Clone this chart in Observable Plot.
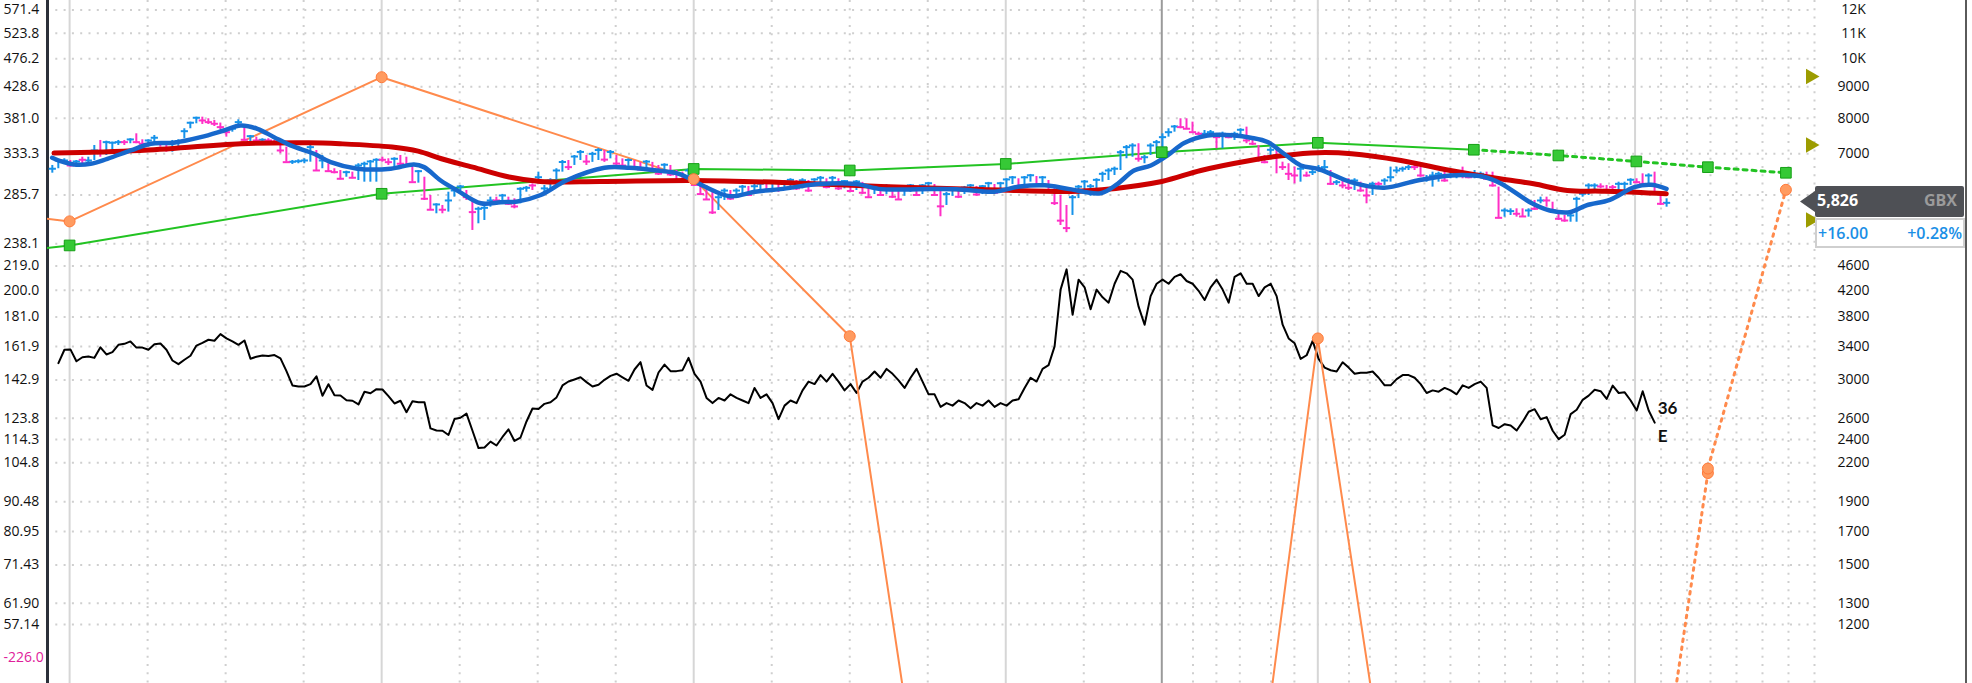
<!DOCTYPE html>
<html><head><meta charset="utf-8">
<script src="https://cdn.jsdelivr.net/npm/d3@7"></script>
<script src="https://cdn.jsdelivr.net/npm/@observablehq/plot@0.6"></script>
<style>
html,body{margin:0;padding:0;background:#fff;overflow:hidden}
#chart{position:relative;width:1972px;height:683px;font-family:"Open Sans",sans-serif}
.tag{position:absolute;box-sizing:border-box}
</style></head><body><div id="chart"></div>
<script>
// ---- data (x in months since the first year line, prices in GBX) ----
const priceTicks = [12000,11000,10000,9000,8000,7000,6000,5000,4600,4200,3800,3400,3000,2600,2400,2200,1900,1700,1500,1300,1200];
const rightTicks = [12000,11000,10000,9000,8000,7000,4600,4200,3800,3400,3000,2600,2400,2200,1900,1700,1500,1300,1200];
const peMultiple = 21;
const yearT = [0, 12, 24, 36, 48, 60.2];
const todayT = 42;
const gridT = [3,6,9,15,18,21,27,30,33,39,43.2,44.1,45,46.2,47.1,49.2,50,51,52.1,53.1,54.2,55.2,56.2,57.2,58.2,59.2,61.2,62.2,63.1,64.1,65.1,66.1,67.1];

// EPS actual (orange) and consensus (green), in EPS units (left axis)
const epsActT = [-6, 0, 12, 24, 30, 36, 42, 48, 54];
const epsActV = [277.8, 258.8, 444.2, 303.2, 168.3, 3.5, 1.95, 166.9, 3.55];
const epsEstT = [54, 60, 63, 63, 66];
const epsEstV = [3.55, 14.2, 100.8, 102.5, 291.3];
const consT = [-6, 0, 12, 24, 30, 36, 42, 48, 54];
const consV = [221, 236.5, 287, 315, 313.2, 321, 335.4, 347.4, 338.5];
const consEstT = [54, 57.25, 60.25, 63, 66];
const consEstV = [338.5, 331.3, 324, 317.1, 310.5];

// moving averages
const redT = [-0.6,2.7,6.6,9.2,10.4,12.4,13.4,14.3,15.5,16.9,18.1,20.4,24,27.4,31.2,35.1,38.5,39.7,42,43.5,45.4,46.7,48,49.3,51.2,53.1,55,56.3,57.6,58.9,60.2,61.4];
const redV = [7019,7089,7270,7298,7270,7179,7070,6872,6660,6418,6312,6312,6335,6288,6195,6125,6080,6118,6312,6577,6828,6958,7030,7003,6828,6577,6375,6256,6102,6086,6063,6026];
const blueT = [-0.67,-0.35,0.17,0.81,1.45,2.35,3.12,4.0,5.04,5.93,6.58,7.22,7.86,8.5,9.4,10.04,11.07,12.35,13.24,13.63,14.27,14.91,15.81,16.58,17.22,18.12,19.12,20.57,21.53,22.5,23.46,24.42,25.4,26.37,27.34,28.79,30.24,31.21,32.65,34.11,35.56,36.53,37.5,38.46,39.65,40.3,40.93,41.58,42.22,42.86,43.76,44.78,45.42,46.07,46.7,47.35,47.99,48.63,49.27,50.55,51.83,53.12,54.4,55.04,56.27,56.92,57.69,58.33,59.23,60.17,60.81,61.41];
const blueV = [6898,6810,6728,6745,6872,7089,7270,7298,7452,7640,7786,7690,7452,7224,7003,6785,6620,6620,6727,6660,6335,6102,5818,5840,5856,6000,6340,6645,6645,6582,6490,6193,5972,6075,6133,6250,6250,6133,6133,6133,6075,6193,6221,6133,6041,6257,6577,6702,6958,7290,7500,7500,7437,7317,7003,6702,6620,6457,6295,6164,6335,6457,6418,6265,5804,5662,5625,5772,5893,6177,6233,6140];

// weekly price bars
const barStartT = -0.665;
const barHigh = [6702,6846,6872,6828,6828,6912,6912,7223,7360,7341,7314,7360,7360,7407,7546,7379,7379,7499,7314,7270,7360,7379,7690,7883,8031,8031,7983,7933,7856,7690,7737,7953,7737,7499,7452,7407,7407,7360,7223,7178,6828,6846,6872,7223,7089,6957,6745,6620,6577,6560,6536,6745,6785,6828,6872,6912,6872,6897,6957,6912,6745,6577,6413,5989,5805,5769,6063,6141,6218,6102,5878,5732,5747,5951,5951,6013,5951,5915,6164,6195,6256,6536,
6218,6376,6620,6828,6828,6957,7089,6957,7040,7140,7089,7089,6957,6870,6870,6828,6780,6828,6780,6702,6745,6702,6577,6536,6620,6455,6335,6218,6102,5989,6140,6102,6140,6218,6195,6240,6290,6240,6335,6290,6335,6376,6335,6376,6335,6376,6430,6376,6430,6376,6335,6290,6335,6290,6195,6240,6218,6240,6195,6102,6195,6240,6195,6240,6290,6240,6140,6060,6140,6140,6195,6240,6195,6218,6290,6240,6290,6376,6430,6376,6430,6480,6430,6430,6335,6195,5989,5769,5989,6218,6335,6240,6376,
6536,6620,6660,7089,7223,7270,7270,6957,7270,7360,7546,7690,7785,7983,7983,7883,7592,7640,7640,7546,7592,7499,7592,7690,7737,7407,7223,6957,7178,7089,6785,6745,6660,6660,6536,6620,6702,6828,6577,6335,6335,6376,6376,6295,6179,6295,6295,6376,6660,6660,6660,6702,6702,6660,6455,6536,6536,6577,6536,6536,6660,6495,6577,6536,6536,6536,6179,5697,5697,5697,5697,5697,5878,5951,5951,5840,5662,5557,5592,5951,6063,6256,6256,6256,
6218,6218,6295,6295,6376,6376,6495,6495,6536,5989,5915];
const barLow = [6511,6620,6745,6660,6660,6745,6745,6828,6912,6957,7002,7223,7223,7270,7270,7223,7178,7270,7178,7044,7044,7178,7407,7690,7835,7815,7815,7756,7660,7452,7592,7737,7341,7314,7314,7270,7270,7223,7002,6785,6727,6745,6745,6785,6577,6620,6536,6495,6352,6413,6376,6335,6295,6295,6295,6785,6702,6660,6660,6702,6295,6272,5878,5662,5592,5592,5627,5951,6102,5878,5253,5386,5453,5732,5769,5878,5769,5697,5805,6063,6102,6256,
5989,6102,6295,6536,6577,6702,6828,6702,6780,6828,6780,6870,6702,6680,6680,6620,6577,6577,6536,6455,6536,6430,6295,6295,6335,6195,5989,5878,5577,5662,5878,5878,5920,5989,5970,6010,6102,6060,6102,6060,6102,6140,6102,6140,6060,6195,6240,6140,6195,6102,6140,6060,6102,6010,5920,6010,5970,6010,5920,5878,5970,6060,5970,6010,6102,5970,5530,5769,5970,5920,6010,6060,5970,6010,6102,6010,6102,6140,6240,6140,6195,6295,6195,6240,6060,5769,5352,5210,5557,5920,6060,5970,6102,
6295,6335,6455,6577,6872,6912,6785,6745,6957,7002,7089,7452,7592,7690,7690,7592,7499,7452,7499,7135,7135,7407,7360,7499,7270,7223,6785,6745,6872,6495,6577,6335,6256,6295,6413,6455,6536,6577,6218,6218,6141,6102,6102,6063,5805,5989,6141,6218,6295,6495,6536,6577,6577,6413,6295,6179,6295,6295,6376,6376,6376,6376,6376,6413,6335,6179,5488,5522,5557,5522,5522,5522,5662,5805,5732,5627,5453,5418,5418,5418,5951,5989,6063,6141,
6032,6063,6102,6102,6218,6256,6179,6179,5989,5769,5732];
const barClose = [6620,6828,6828,6702,6803,6846,6828,7089,7044,7314,7298,7314,7314,7388,7314,7270,7360,7435,7270,7135,7287,7341,7620,7865,8013,7933,7883,7835,7737,7592,7690,7883,7379,7479,7360,7379,7360,7314,7089,6785,6795,6810,6828,7178,6577,6828,6560,6536,6376,6536,6400,6702,6745,6803,6846,6846,6785,6872,6745,6702,6295,6560,5915,5677,5791,5677,5878,6102,6195,5951,5627,5697,5718,5878,5878,5989,5805,5747,6141,6164,6218,6413,
6150,6335,6577,6790,6660,6930,7050,6800,7000,7100,6850,7050,6750,6700,6840,6650,6600,6800,6560,6500,6720,6480,6330,6350,6577,6230,6020,5900,5620,5950,6100,5920,6100,6190,6000,6200,6260,6100,6300,6120,6310,6350,6150,6340,6100,6360,6400,6180,6400,6150,6320,6090,6310,6050,5950,6200,6000,6210,5960,5900,6170,6220,6000,6220,6270,6000,5750,6020,6120,5960,6170,6220,6010,6200,6270,6050,6270,6360,6410,6180,6410,6460,6230,6410,6100,5820,5450,5300,5950,6190,6310,6200,6350,
6495,6577,6620,7044,7178,7223,6872,6912,7223,7314,7452,7592,7756,7737,7690,7592,7546,7546,7592,7452,7546,7452,7546,7660,7360,7270,6872,6785,7107,6957,6660,6495,6455,6620,6455,6536,6620,6660,6256,6295,6218,6164,6335,6102,5989,6256,6256,6335,6413,6577,6620,6660,6660,6455,6376,6455,6495,6335,6455,6480,6455,6413,6455,6495,6376,6218,5508,5662,5648,5592,5536,5662,5697,5878,5878,5662,5488,5453,5557,5915,6028,6218,6218,6195,
6118,6179,6256,6256,6352,6295,6256,6455,6028,5805,5826];
// b = up week (blue), p = down week (pink)
const barDir = "bbbpbpbbpbbbpbppbbppbbbbbpppppbbpbpbppppbbbbpbpppbpbbbbppbpppbppbpbbbppbbbpbppbbpb" +
  "bbbbpbbpbbpbppbppbppbpppbppppbbpbbpbbpbpbbpbpbbpbpbpbppbpbppbbpbbppbbpbbpbbpbbbpbbpbppppbbbbb" +
  "bbbbbbpbbbbbbppppbbpbpbbppppbppppbpbbbpbppbppbpbbbbbppbbbpbbppbbpppbbppbpbppppbbbbbp" +
  "ppbbbppbppb";

// black line (weekly)
const blackStartT = -0.43;
const blackA = [3195,3360,3364,3218,3267,3276,3259,3391,3301,3330,3422,3435,3466,3387,3387,3360,3430,3439,3360,3227,3183,3236,3285,3413,3448,3488,3475,3562,3506,3466,3422,3479,3249,3273,3289,3281,3293,3252,3101,2939,2928,2928,2953,3041,2827,2953,2834,2830,2781,2775,2737,2870,2854,2898,2895,2823,2747,2775,2659,2771,2760,2760,2502,2483,2480,2441,2591,2604,2644,2480,2324,2330,2381,2347,2423,2493,2387,2418,2568,2696,2690,2743,2760,2810,2939,2983,3006,3030,2976,2928,2947,3002,3046,3071,3030,2991,3120,3207,2939,2891,3085,3177,3101,3101,3112,3259];
const blackB = [3070,2982,2805,2751,2805,2778,2843,2805,2778,2751,2912,2805,2843,2751,2590,2725,2778,2751,2885,2982,2954,3055,2982,3070,2982,2885,2954,2857,2982,3025,3097,3025,3127,3070,2996,2912,3025,3127,2982,2843,2843,2712,2751,2725,2778,2751,2698,2751,2725,2778,2712,2751,2725,2778,2791,2912,3025,2982,3127,3171,3403,4209,4540,3831,4369,4245,3910,4209,4089,4008,4302,4515,4474,4369,3948,3690,4108,4302,4369,4302,4415,4458,4347,4302,4190,4048,4245,4369,4209,4008,4415,4474,4302,4302,4108,4245,4302,4108,3690,3505,3442,3246,3291,3473,3246,3142,3111,3097,3205,3142,3070,3083,3083,3097,3025,2940,2940,3010,3055,3055,3025,2954,2857,2885,2871,2912,2885,2843,2940,2912,2954,2982,2912,2530,2506,2542,2530,2482,2566,2663,2689,2590];
const blackC = [2610,2480,2404,2443,2640,2683,2785,2829,2891,2876,2795,2937,2857,2864,2778,2676,2876,2676,2557];

const targets = [9354, 7236, 5464];
const lastPrice = 5826, change = 16.00, changePct = 0.28, currency = "GBX";
const peLabel = "36", peSuffix = "E";
const minEpsLabel = -226.0;

// ---- chart ----
const WEEK = 12 / 52;
const xDomain = [-0.85, 67.1];
const blackData = blackA.concat(blackB, blackC).map((v, i) => ({t: blackStartT + i * WEEK, v}));
const bars = barHigh.map((h, i) => ({t: barStartT + i * WEEK, h, l: barLow[i], c: barClose[i], up: barDir[i] === "b"}));
const zip = (T, V, k = 1) => T.map((t, i) => ({t, v: V[i] * k}));
const act = zip(epsActT, epsActV, peMultiple), est = zip(epsEstT, epsEstV, peMultiple);
const cons = zip(consT, consV, peMultiple), consEst = zip(consEstT, consEstV, peMultiple);
const red = zip(redT, redV), blue = zip(blueT, blueV);
const grid = {stroke: "#cfcfcf", strokeWidth: 2, strokeDasharray: "2,6.3"};
const lastBlack = blackData[blackData.length - 1];
const hTick = {draw(ctx) { ctx.moveTo(-3.6, 0); ctx.lineTo(3.6, 0); }};
const UP = "#1592ea", DOWN = "#ff2fc6";
const barMarks = (f, color) => [
  Plot.ruleX(bars, {filter: f, x: "t", y1: "l", y2: "h", stroke: color, strokeWidth: 2}),
  Plot.dot(bars, {filter: f, x: "t", y: "c", symbol: hTick, fill: "none", stroke: color, strokeWidth: 2, r: 3})
];

const chart = Plot.plot({
  width: 1972, height: 683, marginLeft: 47, marginRight: 158, marginTop: 0, marginBottom: 0,
  style: {fontFamily: "Open Sans, sans-serif", fontSize: "14px", color: "#111", background: "#fff", overflow: "visible"},
  x: {domain: xDomain, axis: null},
  y: {type: "log", domain: [1200, 12000], range: [624, 9.5], axis: null},
  marks: [
    Plot.ruleY(priceTicks, grid),
    Plot.ruleX(gridT, grid),
    Plot.ruleX(yearT, {stroke: "#d6d6d6", strokeWidth: 2}),
    Plot.ruleX([todayT], {stroke: "#9a9a9a", strokeWidth: 2}),
    Plot.ruleX([xDomain[0]], {stroke: "#2b303a", strokeWidth: 3}),
    Plot.axisY({anchor: "left", ticks: priceTicks, tickSize: 0, tickPadding: 44, textAnchor: "start", label: null, tickFormat: v => d3.format(".4r")(v / peMultiple)}),
    Plot.axisY({anchor: "right", ticks: rightTicks, tickSize: 0, tickPadding: 39, textAnchor: "middle", label: null, tickFormat: v => v >= 10000 ? (v / 1000) + "K" : String(v)}),
    Plot.text([minEpsLabel], {frameAnchor: "bottom-left", dx: -44, dy: -22, textAnchor: "start", fill: "#e0209a", text: d => d.toFixed(1)}),
    Plot.line(blackData, {x: "t", y: "v", stroke: "#000", strokeWidth: 2}),
    Plot.line(cons, {x: "t", y: "v", stroke: "#22c322", strokeWidth: 2, clip: true}),
    Plot.line(consEst, {x: "t", y: "v", stroke: "#22c322", strokeWidth: 3, strokeDasharray: "4,5", clip: true}),
    Plot.line(act, {x: "t", y: "v", stroke: "#ff8a4c", strokeWidth: 2, clip: true}),
    Plot.line(est, {x: "t", y: "v", stroke: "#ff8a4c", strokeWidth: 3, strokeDasharray: "2.5,5.5", strokeLinecap: "round", clip: true}),
    ...barMarks(d => d.up, UP),
    ...barMarks(d => !d.up, DOWN),
    Plot.line(red, {x: "t", y: "v", stroke: "#cc0000", strokeWidth: 5, curve: "catmull-rom"}),
    Plot.line(blue, {x: "t", y: "v", stroke: "#1768cc", strokeWidth: 4.5, curve: "catmull-rom"}),
    Plot.dot(cons.slice(1).concat(consEst.slice(1)), {x: "t", y: "v", symbol: "square", r: 6, fill: "#36c936", stroke: "#16a016", strokeWidth: 1, clip: true}),
    Plot.dot(act.slice(1).concat(est.slice(1)), {x: "t", y: "v", r: 5.5, fill: "#ff9b60", stroke: "#ff7a3a", strokeWidth: 1, clip: true}),
    Plot.dot(targets, {x: () => xDomain[1], y: d => d, symbol: "triangle", rotate: 90, r: 5.8, fill: "#9c9c00", dx: -4}),
    Plot.text([lastBlack], {x: "t", y: "v", text: () => peLabel, dx: 3, dy: -14, textAnchor: "start", fontWeight: "bold", fontSize: 17, fontFamily: "Lato, sans-serif"}),
    Plot.text([lastBlack], {x: "t", y: "v", text: () => peSuffix, dx: 3, dy: 14, textAnchor: "start", fontWeight: "bold", fontSize: 17, fontFamily: "Lato, sans-serif"})
  ]
});
const root = document.getElementById("chart");
root.appendChild(chart);

// price tag, positioned with the y scale
const py = chart.scale("y").apply(lastPrice);
const tag = document.createElement("div");
tag.className = "tag";
tag.style.cssText = `left:1800px;top:${py - 16}px;width:164px;height:31px;`;
tag.innerHTML = `<svg width="164" height="31" style="position:absolute;left:0;top:0"><path d="M0,15.5 L15,5 L15,2 Q15,0 17,0 L162,0 Q164,0 164,2 L164,29 Q164,31 162,31 L17,31 Q15,31 15,29 L15,26 Z" fill="#4e5055"/></svg>
<span style="position:absolute;left:17px;top:3px;color:#fff;font-weight:700;font-size:16px">${d3.format(",")(lastPrice)}</span>
<span style="position:absolute;right:7px;top:3px;color:#9b9b9b;font-weight:700;font-size:16px">${currency}</span>`;
root.appendChild(tag);
const chg = document.createElement("div");
chg.className = "tag";
chg.style.cssText = `left:1815px;top:${py + 16}px;width:150px;height:30px;border:2px solid #cfcfcf;background:#fff;`;
chg.innerHTML = `<span style="position:absolute;left:1px;top:2px;color:#1a8fe6;font-weight:600;font-size:16px">+${change.toFixed(2)}</span>
<span style="position:absolute;right:1px;top:2px;color:#1a8fe6;font-weight:600;font-size:16px">+${changePct.toFixed(2)}%</span>`;
root.appendChild(chg);
const border = document.createElement("div");
border.style.cssText = "position:absolute;left:1965px;top:0;width:2px;height:683px;background:#5a5a5a";
root.appendChild(border);
</script></body></html>
